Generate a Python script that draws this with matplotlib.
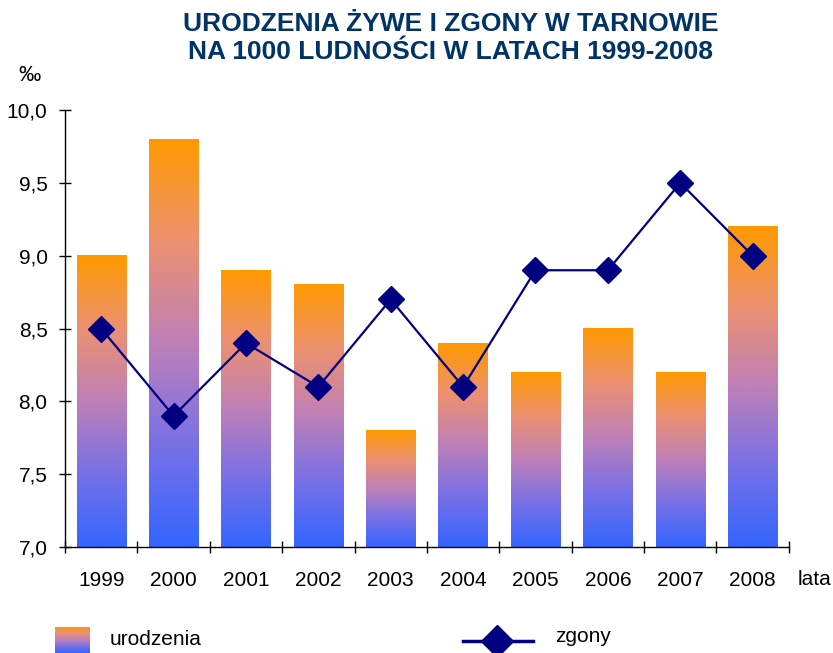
import matplotlib
matplotlib.use("Agg")
import matplotlib.pyplot as plt
import numpy as np
from matplotlib.colors import LinearSegmentedColormap
from matplotlib.lines import Line2D

years = ["1999", "2000", "2001", "2002", "2003", "2004", "2005", "2006", "2007", "2008"]
births = [9.0, 9.8, 8.9, 8.8, 7.8, 8.4, 8.2, 8.5, 8.2, 9.2]
deaths = [8.5, 7.9, 8.4, 8.1, 8.7, 8.1, 8.9, 8.9, 9.5, 9.0]
yticks = [7.0, 7.5, 8.0, 8.5, 9.0, 9.5, 10.0]
ytick_labels = ["7,0", "7,5", "8,0", "8,5", "9,0", "9,5", "10,0"]

plt.rcParams['font.family'] = ['Liberation Sans', 'DejaVu Sans']

cmap = LinearSegmentedColormap.from_list(
    "grad",
    [(0.0, "#3366FF"), (0.25, "#7870E6"), (0.5, "#BE80B8"),
     (0.75, "#EC9170"), (1.0, "#FF9900")])
grad = np.linspace(0, 1, 256).reshape(-1, 1)

fig = plt.figure(figsize=(8.33, 6.53), dpi=100)
ax = fig.add_axes([0.078, 0.1623, 0.869, 0.6692])

x = np.arange(len(years))
bars = ax.bar(x, [b - 7.0 for b in births], bottom=7.0, width=0.68,
              facecolor="none", edgecolor="none")
for rect in bars:
    x0 = rect.get_x()
    w = rect.get_width()
    y0 = rect.get_y()
    h = rect.get_height()
    ax.imshow(grad, cmap=cmap, origin="lower", aspect="auto",
              extent=(x0, x0 + w, y0, y0 + h), zorder=1, interpolation="bilinear")

ax.plot(x, deaths, color="#000080", lw=1.6, marker="D", markersize=13,
        markeredgecolor="#000080", markerfacecolor="#000080", zorder=3)

ax.set_xlim(-0.5, len(years) - 0.5)
ax.set_ylim(7.0, 10.0)
ax.set_yticks(yticks)
ax.set_yticklabels(ytick_labels)
ax.set_xticks(x)
ax.set_xticklabels(years)
ax.set_xticks(np.arange(-0.5, len(years), 1.0), minor=True)
ax.tick_params(axis="x", which="major", length=0, pad=17, labelsize=15)
ax.tick_params(axis="x", which="minor", direction="inout", length=9, width=1)
ax.tick_params(axis="y", direction="inout", length=9, width=1, pad=8, labelsize=15)
for s in ["top", "right"]:
    ax.spines[s].set_visible(False)
ax.spines["left"].set_linewidth(1)
ax.spines["bottom"].set_linewidth(1)

fig.text(0.541, 0.982, "URODZENIA ŻYWE I ZGONY W TARNOWIE\nNA 1000 LUDNOŚCI W LATACH 1999-2008",
         ha="center", va="top", fontsize=19, fontweight="bold", color="#003366",
         linespacing=1.2)
fig.text(0.022, 0.885, "‰", fontsize=16, ha="left", va="center")
fig.text(0.958, 0.113, "lata", fontsize=15, ha="left", va="center")

# legend: gradient square
lax = fig.add_axes([0.066, 0.0, 0.041, 0.04])
lax.imshow(grad, cmap=cmap, origin="lower", aspect="auto", extent=(0, 1, 0, 1))
lax.set_axis_off()
fig.text(0.132, 0.02, "urodzenia", fontsize=15, ha="left", va="center")
fig.add_artist(Line2D([0.556, 0.64], [0.018, 0.018], color="#000080", lw=2.5,
                      transform=fig.transFigure))
fig.add_artist(Line2D([0.597], [0.018], color="#000080", lw=0, marker="D",
                      markersize=16, transform=fig.transFigure))
fig.text(0.666, 0.026, "zgony", fontsize=15, ha="left", va="center")

fig.savefig("out.png", dpi=100)
